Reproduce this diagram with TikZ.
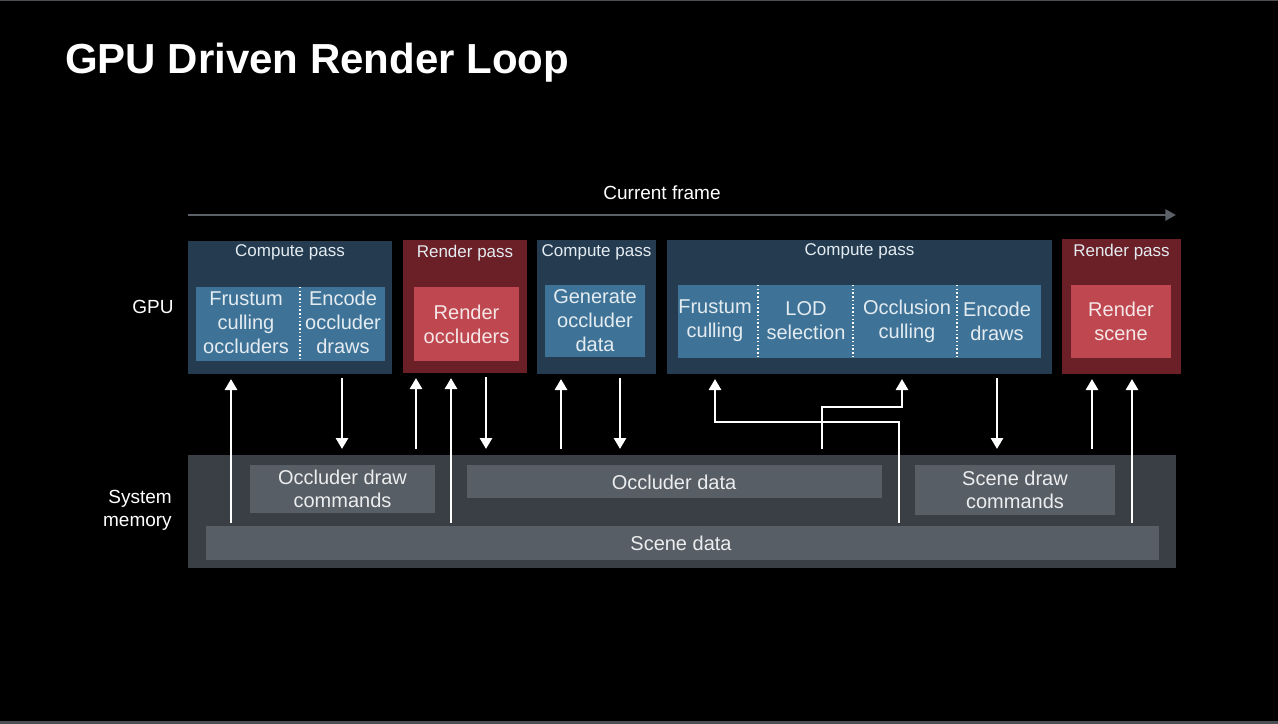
\documentclass[tikz,border=0pt]{standalone}
\usepackage{fontspec}
\setmainfont{Liberation Sans}
\usetikzlibrary{fit,arrows.meta}
\definecolor{cpout}{HTML}{243B50}
\definecolor{cpin}{HTML}{3E7397}
\definecolor{rpout}{HTML}{6B1F26}
\definecolor{rpin}{HTML}{BF4850}
\definecolor{memout}{HTML}{3A3F46}
\definecolor{memin}{HTML}{585E65}
\definecolor{tlgray}{HTML}{5C6167}
\definecolor{edge}{HTML}{4B4F53}
\definecolor{txtb}{HTML}{E4ECF1}
\definecolor{txtr}{HTML}{F5E6E7}
\definecolor{txtm}{HTML}{ECEDEE}
\begin{document}
\begin{tikzpicture}[x=0.75pt,y=-0.75pt,
  box/.style={inner sep=0pt,outer sep=0pt,draw=none},
  cpo/.style={box,fill=cpout},
  cpi/.style={box,fill=cpin},
  rpo/.style={box,fill=rpout},
  rpi/.style={box,fill=rpin},
  memo/.style={box,fill=memout},
  memi/.style={box,fill=memin},
  hdr/.style={text=txtb,font=\fontsize{12.75}{15}\selectfont,inner sep=0pt},
  lbl/.style={text=txtb,font=\fontsize{15}{18}\selectfont,align=center,inner sep=0pt},
  rlbl/.style={lbl,text=txtr},
  mlbl/.style={lbl,text=txtm,font=\fontsize{15}{17.5}\selectfont},
  side/.style={text=white,font=\fontsize{14.25}{17.25}\selectfont,inner sep=0pt},
  div/.style={draw=white,line width=1.1pt,dash pattern=on 1.1pt off 1.7pt},
  arr/.style={draw=white,line width=2pt,-{Triangle[width=9pt,length=8.25pt]}},
  upS/.style={arr,shorten <=2.25pt,shorten >=3.75pt},
  upM/.style={arr,shorten <=4.5pt,shorten >=3.75pt},
  dnA/.style={arr,shorten <=3pt,shorten >=4.5pt},
  tlarrow/.style={draw=tlgray,line width=2.2pt,-{Triangle[width=8.25pt,length=8pt]}}
]
\useasboundingbox (0,0) rectangle (1278,724);
\fill[black] (0,0) rectangle (1278,724);
\fill[edge] (0,0) rectangle (1278,1.5);
\fill[edge] (0,721) rectangle (1278,724);

% title
\node[anchor=base west,inner sep=0pt,text=white,font=\bfseries\fontsize{31.5}{38}\selectfont] (title) at (65,74) {GPU Driven Render Loop};

% timeline
\coordinate (tl0) at (188,215);
\coordinate (tl1) at (1176,215);
\draw[tlarrow] (tl0) -- (tl1);
\node[side] (cf) at (662,193) {Current frame};

% side labels
\node[side] (gpu) at (153,307) {GPU};
\node[side,align=right,anchor=east] (sysmem) at (172,510) {System\\memory};

% GPU passes
\node[cpo,fit={(188,241) (392,374)}] (cp1) {};
\node[rpo,fit={(403,240) (527,373)}] (rp1) {};
\node[cpo,fit={(537,240) (656,374)}] (cp2) {};
\node[cpo,fit={(667,240) (1052,374)}] (cp3) {};
\node[rpo,fit={(1062,239) (1181,374)}] (rp2) {};

\node[hdr] (h1) at ([yshift=-8.8pt]cp1.north) {Compute pass};
\node[hdr] (h2) at ([yshift=-9.5pt]rp1.north) {Render pass};
\node[hdr] (h3) at ([yshift=-9.5pt]cp2.north) {Compute pass};
\node[hdr] (h4) at ([yshift=-8.8pt]cp3.north) {Compute pass};
\node[hdr] (h5) at ([yshift=-9.5pt]rp2.north) {Render pass};

% inner boxes
\node[cpi,fit={(196,287) (385,361)}] (cp1i) {};
\node[rpi,fit={(414,287) (519,361)}] (rp1i) {};
\node[cpi,fit={(545,285) (645,357)}] (cp2i) {};
\node[cpi,fit={(678,285) (1041,358)}] (cp3i) {};
\node[rpi,fit={(1071,285) (1171,358)}] (rp2i) {};

% dividers
\coordinate (d1) at (300,0);
\coordinate (d2) at (758,0);
\coordinate (d3) at (853,0);
\coordinate (d4) at (957,0);
\draw[div] (cp1i.north -| d1) -- (cp1i.south -| d1);
\draw[div] (cp3i.north -| d2) -- (cp3i.south -| d2);
\draw[div] (cp3i.north -| d3) -- (cp3i.south -| d3);
\draw[div] (cp3i.north -| d4) -- (cp3i.south -| d4);

% inner labels
\node[lbl] (t1) at (246,322.5) {Frustum\\culling\\occluders};
\node[lbl] (t2) at (343,322.5) {Encode\\occluder\\draws};
\node[rlbl] (t3) at (rp1i.center) {Render\\occluders};
\node[lbl] (t4) at (595,321) {Generate\\occluder\\data};
\node[lbl] (t5) at (715,321) {Frustum\\culling};
\node[lbl] (t6) at (806,321) {LOD\\selection};
\node[lbl] (t7) at (907,321) {Occlusion\\culling};
\node[lbl] (t8) at (997,321) {Encode\\draws};
\node[rlbl] (t9) at (rp2i.center) {Render\\scene};

% system memory
\node[memo,fit={(188,455) (1176,568)}] (mem) {};
\node[memi,fit={(250,465) (435,513)}] (odc) {};
\node[memi,fit={(467,465) (882,498)}] (od) {};
\node[memi,fit={(915,465) (1115,515)}] (sdc) {};
\node[memi,fit={(206,526) (1159,560)}] (sd) {};
\node[mlbl] (t10) at (odc.center) {Occluder draw\\commands};
\node[mlbl] (t11) at (674,482) {Occluder data};
\node[mlbl] (t12) at (sdc.center) {Scene draw\\commands};
\node[mlbl] (t13) at (681,543) {Scene data};

% arrow x positions
\coordinate (x231) at (231,0);
\coordinate (x342) at (342,0);
\coordinate (x416) at (416,0);
\coordinate (x451) at (451,0);
\coordinate (x486) at (486,0);
\coordinate (x561) at (561,0);
\coordinate (x620) at (620,0);
\coordinate (x997) at (997,0);
\coordinate (x1092) at (1092,0);
\coordinate (x1132) at (1132,0);
\coordinate (b1) at (715,422);
\coordinate (b1r) at (899,422);
\coordinate (b2) at (822,407);
\coordinate (b2r) at (902,407);

% arrows
\draw[upS] (sd.north -| x231) -- (cp1.south -| x231);
\draw[dnA] (cp1.south -| x342) -- (mem.north -| x342);
\draw[upM] (mem.north -| x416) -- (rp1.south -| x416);
\draw[upS] (sd.north -| x451) -- (rp1.south -| x451);
\draw[dnA] (rp1.south -| x486) -- (mem.north -| x486);
\draw[upM] (mem.north -| x561) -- (cp2.south -| x561);
\draw[dnA] (cp2.south -| x620) -- (mem.north -| x620);
\draw[upS] (sd.north -| b1r) -- (b1r) -- (b1) -- (cp3.south -| b1);
\draw[upM] (mem.north -| b2) -- (b2) -- (b2r) -- (cp3.south -| b2r);
\draw[dnA] (cp3.south -| x997) -- (mem.north -| x997);
\draw[upM] (mem.north -| x1092) -- (rp2.south -| x1092);
\draw[upS] (sd.north -| x1132) -- (rp2.south -| x1132);
\end{tikzpicture}
\end{document}
